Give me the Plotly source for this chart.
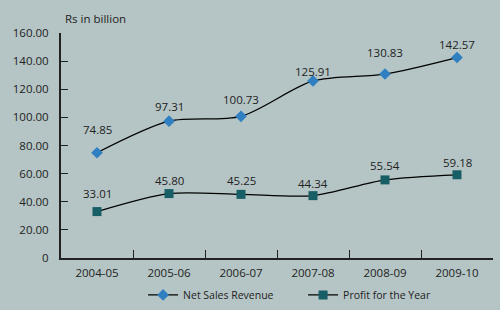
import plotly.graph_objects as go

years = ["2004-05", "2005-06", "2006-07", "2007-08", "2008-09", "2009-10"]
net_sales = [74.85, 97.31, 100.73, 125.91, 130.83, 142.57]
profit = [33.01, 45.80, 45.25, 44.34, 55.54, 59.18]
y_ticks = [0, 20, 40, 60, 80, 100, 120, 140, 160]
y_tick_text = ["0", "20.00", "40.00", "60.00", "80.00", "100.00", "120.00", "140.00", "160.00"]

# label offsets (style only, pixels above the marker)
net_label_shift = [23, 15, 17, 9, 22, 13]
profit_label_shift = [18, 13, 14, 12, 14, 12]

BG = "#b5c5c5"
FONT = "Open Sans"

fig = go.Figure()
fig.add_trace(go.Scatter(
    x=years, y=net_sales, name="Net Sales Revenue",
    mode="lines+markers",
    line=dict(color="black", width=1.3, shape="spline", smoothing=0.8),
    marker=dict(symbol="diamond", size=9, color="#2f7fc1"),
))
fig.add_trace(go.Scatter(
    x=years, y=profit, name="Profit for the Year",
    mode="lines+markers",
    line=dict(color="black", width=1.3, shape="spline", smoothing=0.8),
    marker=dict(symbol="square", size=9, color="#175e66"),
))

annotations = [dict(text="Rs in billion", x=0, xref="paper", xanchor="left", xshift=2,
                    y=1, yref="paper", yanchor="bottom", yshift=5, showarrow=False,
                    font=dict(size=11.5))]
for series, shifts in ((net_sales, net_label_shift), (profit, profit_label_shift)):
    for xv, yv, s in zip(years, series, shifts):
        annotations.append(dict(x=xv, y=yv, xref="x", yref="y", text=f"{yv:.2f}",
                                showarrow=False, yanchor="middle", yshift=s,
                                font=dict(size=11.5, color="#222")))

fig.update_layout(
    width=500, height=310,
    paper_bgcolor=BG, plot_bgcolor=BG,
    margin=dict(l=61, r=7, t=33, b=52, autoexpand=False),
    font=dict(family=FONT, size=11, color="#222"),
    showlegend=True,
    legend=dict(orientation="h", x=0.19, xanchor="left", y=-0.164, yanchor="middle",
                bgcolor="rgba(0,0,0,0)", font=dict(size=10.5), itemwidth=30,
                entrywidth=115),
    annotations=annotations,
)
fig.update_xaxes(
    type="category", range=[-0.5, 5.5], tickson="boundaries", ticks="inside",
    ticklen=8, tickcolor="#222", showline=True, linecolor="#222", linewidth=2,
    showgrid=False, zeroline=False, ticklabelstandoff=3, automargin=False,
    tickfont=dict(size=11.5),
)
fig.update_yaxes(
    range=[0, 160], tickvals=y_ticks, ticktext=y_tick_text, ticks="inside",
    ticklen=7, tickcolor="#222", showline=True, linecolor="#222", linewidth=2,
    showgrid=False, zeroline=False, automargin=False, ticklabelstandoff=8,
    tickfont=dict(size=11.5),
)
fig.write_html("out.html", config={"displayModeBar": False},
               post_script="document.body.style.margin='0';")
